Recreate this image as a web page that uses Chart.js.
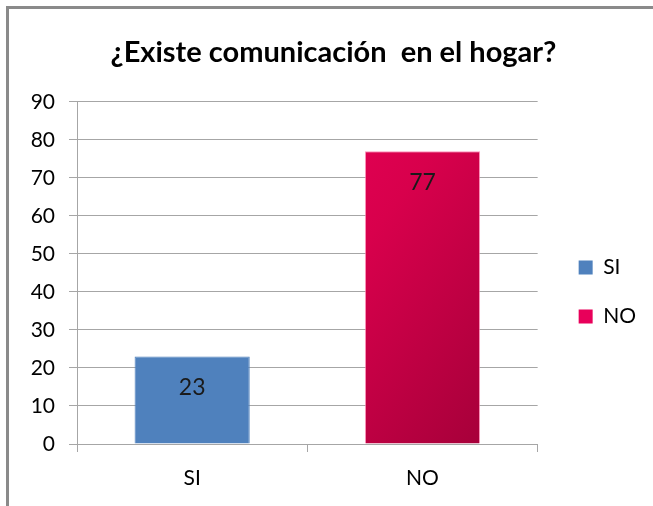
<!DOCTYPE html>
<html>
<head>
<meta charset="utf-8">
<script src="https://cdn.jsdelivr.net/npm/chart.js@4.4.1/dist/chart.umd.min.js"></script>
<style>
  html, body { margin: 0; padding: 0; background: #fff; }
  #wrap { position: relative; width: 653px; height: 506px; overflow: hidden; }
  #frame { position: absolute; left: 6px; top: 6px; width: 800px; height: 700px;
           border-top: 3px solid #8a8a8a; border-left: 3px solid #8a8a8a; pointer-events: none; }
  canvas { position: absolute; left: 0; top: 0; }
</style>
</head>
<body>
<div id="wrap">
  <canvas id="chart" width="653" height="506"></canvas>
  <div id="frame"></div>
</div>
<script>
const titleText = '¿Existe comunicación  en el hogar?';
const categories = ['SI', 'NO'];
const values = [23, 77];
const yTicks = { min: 0, max: 90, step: 10 };

const FONT = 'Lato, "Open Sans", sans-serif';
const GRID = '#a6a6a6';

function noGradient(ctx) {
  const area = ctx.chart.chartArea;
  if (!area) return '#ff0066';
  const el = ctx.element;
  const x0 = el && el.base !== undefined ? el.x - el.width / 2 : area.left;
  const x1 = el && el.base !== undefined ? el.x + el.width / 2 : area.right;
  const y0 = el && el.base !== undefined ? el.y : area.top;
  const g = ctx.chart.ctx.createLinearGradient(x0, y0, x1, area.bottom);
  g.addColorStop(0, '#ff0066');
  g.addColorStop(0.55, '#d8004c');
  g.addColorStop(1, '#9c0036');
  return g;
}

// value labels drawn inside the bars, near the top
const barLabels = {
  id: 'barLabels',
  afterDatasetsDraw(chart) {
    const ctx = chart.ctx;
    ctx.save();
    ctx.font = '23px ' + FONT;
    ctx.fillStyle = '#1a1a1a';
    ctx.textAlign = 'center';
    ctx.textBaseline = 'middle';
    chart.data.datasets.forEach((ds, di) => {
      chart.getDatasetMeta(di).data.forEach((bar, i) => {
        if (ds.data[i] == null) return;
        ctx.fillText(String(ds.data[i]), bar.x, bar.y + 31);
      });
    });
    ctx.restore();
  }
};

// nudges legend and title to where the original put them
const boxShift = {
  id: 'boxShift',
  afterLayout(chart) {
    const lg = chart.legend;
    if (lg) {
      lg.left += 13;
      lg.right += 13;
      lg.top += 39;
      lg.bottom += 39;
    }
    const tt = chart.titleBlock;
    if (tt) {
      tt.left += 17;
      tt.right += 17;
    }
  }
};

const ctx = document.getElementById('chart').getContext('2d');
new Chart(ctx, {
  type: 'bar',
  data: {
    labels: categories,
    datasets: [{
      label: 'serie',
      data: values,
      backgroundColor: (c) => c.dataIndex === 1 ? noGradient(c) : '#4f81bd',
      borderColor: (c) => c.dataIndex === 1 ? 'rgba(255,120,170,0.8)' : '#4f81bd',
      borderWidth: 1,
      categoryPercentage: 1,
      barPercentage: 0.5
    }]
  },
  options: {
    responsive: false,
    animation: false,
    layout: { padding: { left: 0, right: 20, top: 0, bottom: 0 } },
    plugins: {
      title: {
        display: true,
        text: titleText,
        color: '#000',
        font: { family: FONT, size: 29, weight: 'bold' },
        padding: { top: 35, bottom: 32 }
      },
      legend: {
        position: 'right',
        align: 'center',
        labels: {
          font: { family: FONT, size: 21 },
          color: '#000',
          boxWidth: 14,
          boxHeight: 14,
          padding: 28,
          generateLabels(chart) {
            return categories.map((c, i) => ({
              text: c,
              fillStyle: i === 1 ? '#e8005a' : '#4f81bd',
              strokeStyle: i === 1 ? '#e8005a' : '#4f81bd',
              lineWidth: 0,
              hidden: false,
              index: i
            }));
          }
        }
      },
      tooltip: { enabled: false }
    },
    scales: {
      x: {
        grid: { display: true, offset: true, drawOnChartArea: false, drawTicks: true, tickLength: 8, color: GRID },
        border: { display: true, color: GRID, width: 1 },
        ticks: { font: { family: FONT, size: 21 }, color: '#000', padding: 14 },
        afterFit(s) { s.height = 62; }
      },
      y: {
        min: yTicks.min,
        max: yTicks.max,
        ticks: { stepSize: yTicks.step, font: { family: FONT, size: 21 }, color: '#000', padding: 14 },
        grid: { color: GRID, tickLength: 8, drawTicks: true },
        border: { display: true, color: GRID, width: 1 },
        afterFit(s) { s.width = 77; }
      }
    }
  },
  plugins: [barLabels, boxShift]
});
</script>
</body>
</html>
